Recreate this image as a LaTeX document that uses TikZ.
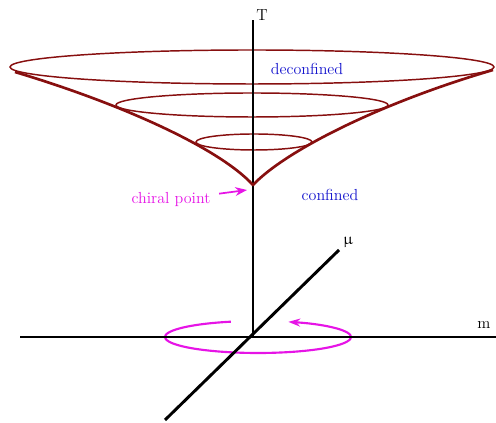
\documentclass[tikz,border=0pt]{standalone}
\usepackage{upgreek}
\usetikzlibrary{arrows.meta}

\definecolor{conered}{RGB}{135,15,15}
\definecolor{phasepink}{RGB}{230,20,230}
\definecolor{phaseblue}{RGB}{20,20,205}

\begin{document}
\begin{tikzpicture}[>=Stealth,x=0.75pt,y=0.75pt,
  axis/.style={black,line width=2.2pt},
  slice/.style={conered,line width=1.1pt},
  cone/.style={conered,line width=2pt,line join=round},
  phase/.style={text=phaseblue,font=\large},
  axlabel/.style={font=\large}]

\useasboundingbox (0,0) rectangle (496,423);

% ---------------- ROTATION ABOUT THE T AXIS ----------------
\coordinate (rotc) at (258,86);
\draw[phasepink,line width=1.6pt,-{Stealth[length=9pt,width=6pt]}]
  (rotc) ++(107:93 and 16) arc[start angle=107,end angle=431,x radius=93,y radius=16];

% ---------------- CONE (slices) ----------------
\draw[slice] (252,356) ellipse [x radius=242,y radius=17];
\draw[slice] (252,318) ellipse [x radius=136,y radius=12];
\draw[slice] (254,281) ellipse [x radius=58,y radius=8];

% ---------------- AXES ----------------
\coordinate (O) at (253,86);
\coordinate (Ttop) at (253,403);
\coordinate (mleft) at (20,86);
\coordinate (mright) at (496,86);
\coordinate (mufront) at (165,3);
\coordinate (muback) at (339,173);

\draw[black,line width=1.6pt] (O) -- (Ttop);
\draw[axis] (mleft) -- (mright);
\draw[axis] (mufront) -- (muback);

\node[axlabel] (T) at (262,408) {T};
\node[axlabel] (m) at (484,98) {m};
\node[axlabel] (mu) at (348,181) {$\upmu$};

% ---------------- CONE (outline) ----------------
\coordinate (apex) at (253,238);
\coordinate (rimleft) at (15,351);
\coordinate (rimright) at (493,353);
\draw[cone] (rimleft) .. controls (125,318) and (220,274) .. (apex)
  .. controls (285,272) and (380,320) .. (rimright);

% ---------------- LABELS ----------------
\node[phase] (deconf) at (307,354) {deconfined};
\node[phase] (conf) at (330,228) {confined};
\node[text=phasepink,font=\large] (chiral) at (171,223) {chiral point};
\coordinate (chiraltip) at (247,233);
\draw[->,phasepink,line width=1.3pt,shorten <=3pt] (chiral) -- (chiraltip);

\end{tikzpicture}
\end{document}
